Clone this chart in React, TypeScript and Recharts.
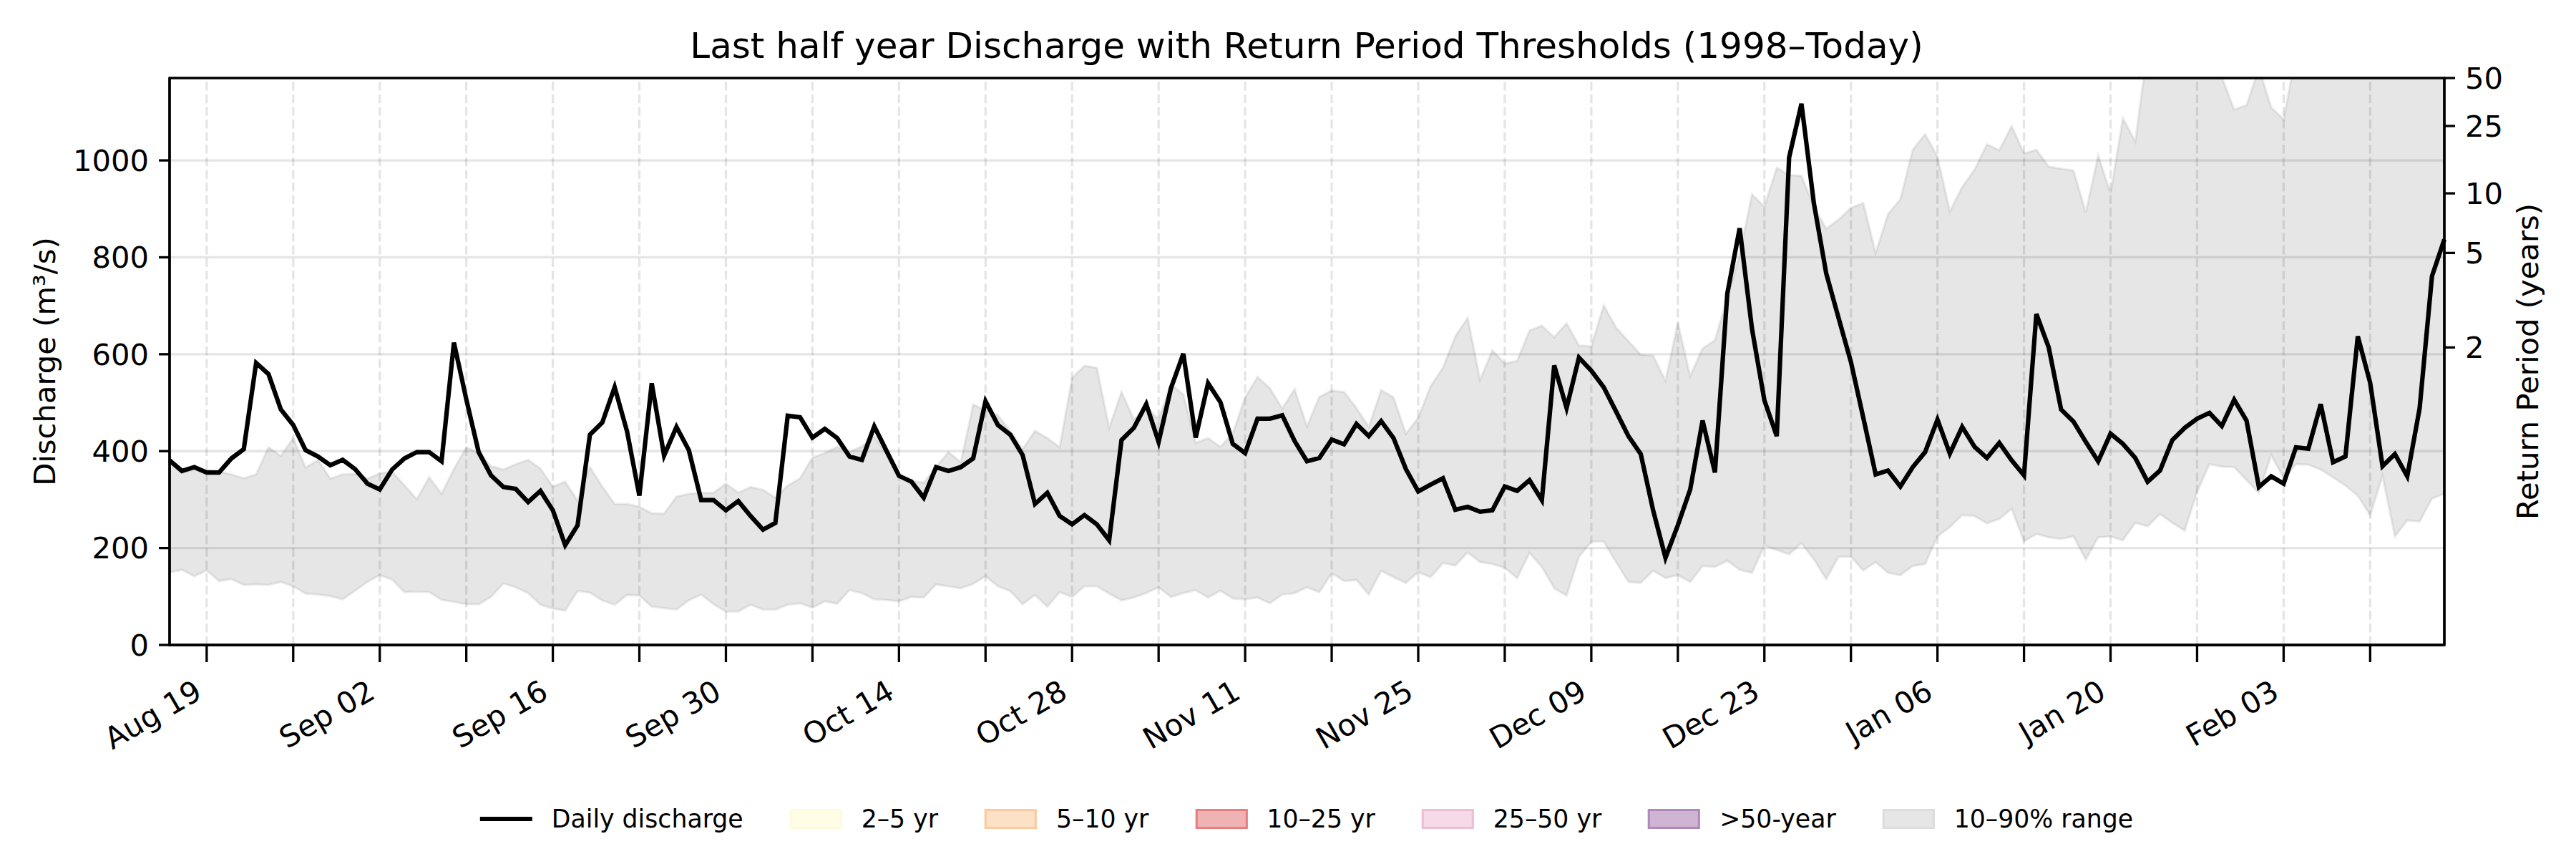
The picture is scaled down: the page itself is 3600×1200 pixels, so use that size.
import React from "react"
import { Area, ComposedChart, Line, ReferenceArea, ReferenceLine, XAxis, YAxis } from "recharts"

// Daily discharge (m³/s), day 0 = Aug 16, last day = Feb 16
const discharge = [
  381, 359, 367, 356, 356, 385, 404, 582, 559, 486, 454, 402, 389, 371, 382, 363, 333, 321, 362, 385,
  398, 398, 379, 624, 507, 398, 350, 326, 322, 295, 318, 278, 206, 247, 434, 459, 532, 441, 308, 540,
  391, 450, 402, 299, 299, 278, 297, 266, 238, 252, 473, 470, 428, 446, 427, 389, 382, 451, 400, 349,
  337, 304, 367, 359, 367, 385, 503, 454, 434, 392, 291, 314, 266, 249, 268, 249, 216, 423, 448, 497,
  419, 530, 601, 428, 540, 501, 415, 396, 467, 467, 474, 421, 379, 386, 424, 414, 456, 431, 462, 427,
  363, 317, 331, 344, 279, 285, 275, 278, 327, 318, 340, 299, 577, 489, 593, 566, 532, 482, 431, 394,
  278, 180, 247, 321, 463, 356, 725, 860, 652, 505, 431, 1006, 1117, 912, 767, 675, 584, 469, 352, 360,
  327, 367, 398, 465, 395, 450, 409, 386, 417, 381, 350, 683, 614, 486, 461, 419, 379, 436, 415, 386,
  337, 360, 423, 448, 467, 479, 452, 506, 463, 326, 348, 333, 408, 405, 497, 377, 389, 637, 541, 369,
  394, 348, 488, 761, 837,
]

// 10th percentile of the same calendar day (1998–today)
const p10 = [
  150, 155, 142, 154, 132, 136, 124, 125, 124, 130, 121, 106, 104, 101, 94, 112, 130, 144, 135, 109,
  110, 109, 93, 89, 84, 84, 99, 127, 119, 107, 83, 75, 71, 111, 108, 92, 83, 103, 102, 79,
  76, 73, 92, 104, 84, 69, 69, 83, 73, 73, 83, 86, 77, 90, 85, 113, 107, 94, 93, 90,
  99, 98, 125, 121, 117, 126, 142, 121, 111, 84, 103, 79, 109, 99, 121, 121, 106, 92, 98, 107,
  119, 99, 107, 113, 98, 112, 96, 94, 98, 86, 104, 107, 119, 109, 148, 132, 134, 104, 153, 140,
  128, 150, 140, 169, 164, 191, 171, 167, 159, 138, 190, 161, 117, 102, 182, 213, 214, 171, 130, 128,
  153, 138, 144, 130, 163, 161, 174, 155, 149, 205, 196, 187, 210, 177, 136, 182, 182, 154, 171, 149,
  144, 163, 167, 224, 243, 268, 266, 251, 260, 281, 214, 229, 222, 219, 224, 176, 222, 224, 216, 252,
  245, 270, 252, 236, 316, 373, 368, 367, 340, 314, 392, 344, 373, 372, 362, 346, 329, 308, 268, 349,
  224, 257, 255, 302, 312,
]

// 90th percentile of the same calendar day (1998–today)
const p90 = [
  375, 356, 362, 362, 358, 352, 344, 352, 408, 390, 427, 366, 382, 343, 352, 353, 343, 354, 358, 329,
  301, 346, 312, 363, 408, 396, 369, 362, 373, 382, 364, 327, 337, 298, 367, 327, 291, 291, 285, 272,
  271, 306, 312, 314, 314, 333, 314, 326, 320, 304, 329, 344, 387, 396, 409, 398, 410, 431, 392, 350,
  339, 335, 367, 398, 377, 496, 484, 474, 441, 404, 442, 427, 408, 551, 576, 572, 448, 522, 465, 492,
  465, 538, 517, 417, 427, 409, 436, 511, 553, 530, 488, 528, 451, 512, 525, 522, 489, 450, 526, 511,
  436, 469, 534, 572, 637, 675, 547, 608, 581, 586, 649, 659, 635, 664, 618, 616, 701, 655, 627, 599,
  597, 545, 665, 555, 612, 629, 717, 805, 930, 905, 985, 970, 968, 905, 859, 878, 902, 912, 809, 889,
  920, 1022, 1054, 1008, 895, 945, 981, 1033, 1021, 1071, 1014, 1022, 987, 983, 979, 893, 1010, 932, 1087, 1039,
  1230, 1260, 1280, 1250, 1220, 1200, 1172, 1105, 1114, 1190, 1109, 1085, 1220, 1250, 1240, 1230, 1210, 1190, 1176, 1230,
  1260, 1240, 1220, 1250, 1230,
]

const weekTickDays = [3, 10, 17, 24, 31, 38, 45, 52, 59, 66, 73, 80, 87, 94, 101, 108, 115, 122, 129, 136, 143, 150, 157, 164, 171, 178]
const weekTickLabels = [
  "Aug 19", "", "Sep 02", "", "Sep 16", "", "Sep 30", "", "Oct 14", "", "Oct 28", "", "Nov 11",
  "", "Nov 25", "", "Dec 09", "", "Dec 23", "", "Jan 06", "", "Jan 20", "", "Feb 03", "",
]

const dischargeTicks = [0, 200, 400, 600, 800, 1000]
const returnPeriods = ["2", "5", "10", "25", "50"]
const returnThresholds = [614, 809, 932, 1071, 1170]
const yMax = 1170

const legendLabels = ["Daily discharge", "2–5 yr", "5–10 yr", "10–25 yr", "25–50 yr", ">50-year", "10–90% range"]

// swatch look for each legend entry after the first (line) one
const swatchStyles = [
  { fill: "#fffde6", border: "#fffbdc" },
  { fill: "#fde1c7", border: "#fcca9e" },
  { fill: "#f0b3b3", border: "#e68080" },
  { fill: "#f6dae8", border: "#efbdd6" },
  { fill: "#cfb4d4", border: "#b089bc" },
  { fill: "#e6e6e6", border: "#dddddd" },
]

const FONT = "'DejaVu Sans', sans-serif"
const TICK_FS = 41.7
const GRID = "rgba(0,0,0,0.1)"

const chartData = discharge.map((q, i) => ({
  day: i,
  q,
  band: [p10[i], p90[i]],
}))

const DateTick = (props: any) => {
  const { x, y, payload } = props
  const label = weekTickLabels[weekTickDays.indexOf(payload.value)]
  if (!label) return null
  const ax = x - 4
  const ay = y + 49
  return (
    <text
      x={ax}
      y={ay}
      textAnchor="end"
      transform={`rotate(-30, ${ax}, ${ay})`}
      fontSize={TICK_FS}
      fontFamily={FONT}
      fill="#000"
    >
      {label}
    </text>
  )
}

const Legend = () => (
  <div
    style={{
      position: "absolute",
      left: 1826,
      top: 1124,
      transform: "translateX(-50%)",
      display: "flex",
      alignItems: "center",
      whiteSpace: "nowrap",
      fontFamily: FONT,
      fontSize: 34.7,
      color: "#000",
    }}
  >
    {legendLabels.map((label, i) => (
      <div key={label} style={{ display: "flex", alignItems: "center", marginLeft: i === 0 ? 0 : 65 }}>
        {i === 0 ? (
          <div style={{ width: 73, height: 28, display: "flex", alignItems: "center" }}>
            <div style={{ width: 73, height: 6, background: "#000" }} />
          </div>
        ) : (
          <div
            style={{
              width: 73,
              height: 28,
              boxSizing: "border-box",
              background: swatchStyles[i - 1].fill,
              border: `3px solid ${swatchStyles[i - 1].border}`,
            }}
          />
        )}
        <span style={{ marginLeft: 27, lineHeight: "40px" }}>{label}</span>
      </div>
    ))}
  </div>
)

export default function App() {
  return (
    <div style={{ position: "absolute", left: 0, top: 0, width: 3600, height: 1200, background: "#fff" }}>
      <div
        style={{
          position: "absolute",
          left: 1826,
          top: 34,
          transform: "translateX(-50%)",
          fontFamily: FONT,
          fontSize: 50,
          whiteSpace: "nowrap",
          color: "#000",
          lineHeight: "60px",
        }}
      >
        Last half year Discharge with Return Period Thresholds (1998–Today)
      </div>

      <ComposedChart
        width={3600}
        height={1200}
        data={chartData}
        margin={{ top: 109, right: 0, bottom: 149, left: 0 }}
      >
        <XAxis
          dataKey="day"
          type="number"
          domain={[0, 184]}
          ticks={weekTickDays}
          interval={0}
          height={150}
          tickSize={24}
          tickMargin={0}
          tick={<DateTick />}
          axisLine={{ stroke: "#000", strokeWidth: 3.3 }}
          tickLine={{ stroke: "#000", strokeWidth: 3.3 }}
        />
        <YAxis
          yAxisId="q"
          domain={[0, yMax]}
          ticks={dischargeTicks}
          interval={0}
          allowDataOverflow
          width={237}
          tickSize={15}
          tickMargin={14}
          tick={{ fontSize: TICK_FS, fill: "#000", fontFamily: FONT }}
          axisLine={{ stroke: "#000", strokeWidth: 3.3 }}
          tickLine={{ stroke: "#000", strokeWidth: 3.3 }}
        />
        <YAxis
          yAxisId="rp"
          orientation="right"
          domain={[0, yMax]}
          ticks={returnThresholds}
          interval={0}
          allowDataOverflow
          width={184}
          tickSize={15}
          tickMargin={14}
          tickFormatter={(v: number) => returnPeriods[returnThresholds.indexOf(v)]}
          tick={{ fontSize: TICK_FS, fill: "#000", fontFamily: FONT }}
          axisLine={{ stroke: "#000", strokeWidth: 3.3 }}
          tickLine={{ stroke: "#000", strokeWidth: 3.3 }}
        />

        <Area
          yAxisId="q"
          dataKey="band"
          type="linear"
          fill="#808080"
          fillOpacity={0.2}
          stroke="#808080"
          strokeOpacity={0.15}
          strokeWidth={3.3}
          isAnimationActive={false}
          activeDot={false}
        />

        {dischargeTicks.map((v) => (
          <ReferenceLine key={`h${v}`} yAxisId="q" y={v} stroke={GRID} strokeWidth={3.3} />
        ))}
        {weekTickDays.map((d) => (
          <ReferenceLine
            key={`v${d}`}
            yAxisId="q"
            x={d}
            stroke={GRID}
            strokeWidth={3.3}
            strokeDasharray="12.3 5.3"
          />
        ))}

        <Line
          yAxisId="q"
          dataKey="q"
          type="linear"
          stroke="#000"
          strokeWidth={6.25}
          dot={false}
          activeDot={false}
          isAnimationActive={false}
        />

        <ReferenceArea
          yAxisId="q"
          x1={0}
          x2={184}
          y1={0}
          y2={yMax}
          fill="none"
          stroke="#000"
          strokeWidth={3.3}
          ifOverflow="visible"
        />
      </ComposedChart>

      <div
        style={{
          position: "absolute",
          left: 62,
          top: 505,
          transform: "translate(-50%, -50%) rotate(-90deg)",
          fontFamily: FONT,
          fontSize: TICK_FS,
          whiteSpace: "nowrap",
          color: "#000",
        }}
      >
        Discharge (m³/s)
      </div>
      <div
        style={{
          position: "absolute",
          left: 3532,
          top: 505,
          transform: "translate(-50%, -50%) rotate(-90deg)",
          fontFamily: FONT,
          fontSize: TICK_FS,
          whiteSpace: "nowrap",
          color: "#000",
        }}
      >
        Return Period (years)
      </div>

      <Legend />
    </div>
  )
}
